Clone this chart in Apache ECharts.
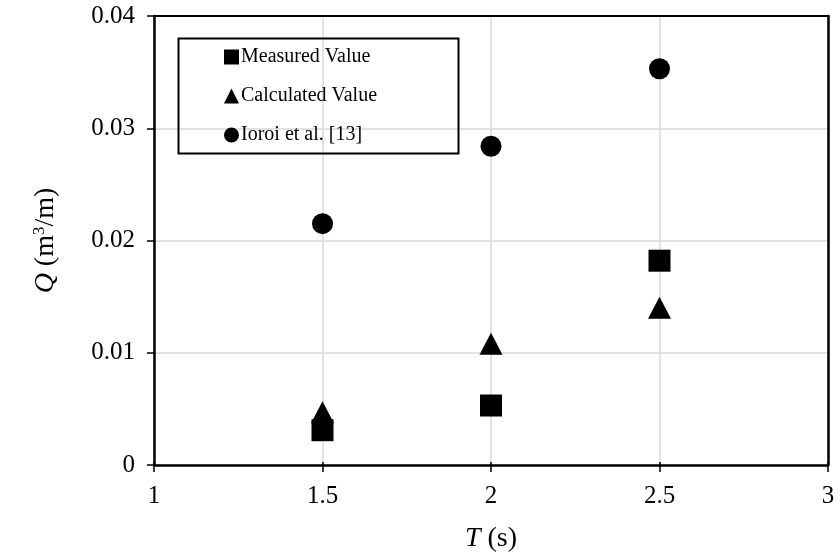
<!DOCTYPE html>
<html>
<head>
<meta charset="utf-8">
<script src="https://cdn.jsdelivr.net/npm/echarts@6/dist/echarts.min.js"></script>
<style>
  html, body { margin: 0; padding: 0; background: #fff; }
  #chart { width: 840px; height: 558px; }
</style>
</head>
<body>
<div id="chart"></div>
<script>
// Wave period T (s) and overtopping discharge Q (m³/m)
const periods = [1.5, 2, 2.5];
const measuredQ = [0.0031, 0.0053, 0.0182];
const calculatedQ = [0.0047, 0.0108, 0.0140];
const ioroiQ = [0.0215, 0.0284, 0.0353];
const xTicks = [1, 1.5, 2, 2.5, 3];
const yTicks = [0, 0.01, 0.02, 0.03, 0.04];

const FONT = '"Liberation Serif", "Times New Roman", serif';
const pairs = (ys) => periods.map((x, i) => [x, ys[i]]);

const chart = echarts.init(document.getElementById('chart'), null, { renderer: 'canvas' });

const gridLine = { show: true, lineStyle: { color: '#d9d9d9', width: 1.5 } };

chart.setOption({
  backgroundColor: '#fff',
  animation: false,
  grid: { left: 154, right: 12, top: 16, bottom: 93, show: false },
  xAxis: [{
    type: 'value',
    min: xTicks[0], max: xTicks[xTicks.length - 1], interval: 0.5,
    name: '{i|T} (s)',
    nameLocation: 'middle', nameGap: 60,
    nameTextStyle: {
      fontFamily: FONT, fontSize: 28, color: '#000',
      rich: { i: { fontFamily: FONT, fontSize: 28, fontStyle: 'italic', color: '#000' } }
    },
    axisLine: { show: true, onZero: false, lineStyle: { color: '#000', width: 2.5 } },
    axisTick: { show: true, length: 7, lineStyle: { color: '#000', width: 1.5 } },
    axisLabel: { fontFamily: FONT, fontSize: 25, color: '#000', margin: 19 },
    splitLine: gridLine
  }, {
    // inner half of the crossing x ticks
    type: 'value', position: 'bottom',
    min: xTicks[0], max: xTicks[xTicks.length - 1], interval: 0.5,
    axisLine: { show: false, onZero: false },
    axisTick: { show: true, inside: true, length: 3, lineStyle: { color: '#000', width: 1.5 } },
    axisLabel: { show: false }, splitLine: { show: false }
  }, {
    // top frame line
    type: 'value', position: 'top',
    min: xTicks[0], max: xTicks[xTicks.length - 1],
    axisLine: { show: true, onZero: false, lineStyle: { color: '#000', width: 2 } },
    axisTick: { show: false }, axisLabel: { show: false }, splitLine: { show: false }
  }],
  yAxis: [{
    type: 'value',
    min: yTicks[0], max: yTicks[yTicks.length - 1], interval: 0.01,
    name: '{i|Q} (m{sup|3}/m)',
    nameLocation: 'middle', nameGap: 94, nameRotate: 90,
    nameTextStyle: {
      fontFamily: FONT, fontSize: 28, color: '#000',
      rich: {
        i: { fontFamily: FONT, fontSize: 28, fontStyle: 'italic', color: '#000' },
        sup: { fontFamily: FONT, fontSize: 17, color: '#000', verticalAlign: 'top', padding: [0, 0, 12, 0] }
      }
    },
    axisLine: { show: true, onZero: false, lineStyle: { color: '#000', width: 2.5 } },
    axisTick: { show: true, length: 7, lineStyle: { color: '#000', width: 1.5 } },
    axisLabel: { fontFamily: FONT, fontSize: 25, color: '#000', margin: 19 },
    splitLine: gridLine
  }, {
    // right frame line
    type: 'value', position: 'right',
    min: yTicks[0], max: yTicks[yTicks.length - 1],
    axisLine: { show: true, onZero: false, lineStyle: { color: '#000', width: 2.5 } },
    axisTick: { show: false }, axisLabel: { show: false }, splitLine: { show: false }
  }],
  legend: {
    orient: 'vertical', left: 219, top: 42,
    itemWidth: 15, itemHeight: 15, itemGap: 19,
    textStyle: { fontFamily: FONT, fontSize: 20, color: '#000', padding: [0, 0, 0, -3] },
    data: [
      { name: 'Measured Value', icon: 'rect' },
      { name: 'Calculated Value', icon: 'triangle' },
      { name: 'Ioroi et al. [13]', icon: 'circle' }
    ]
  },
  graphic: [{
    type: 'rect', left: 176, top: 36, z: 100, silent: true,
    shape: { width: 280, height: 115 },
    style: { fill: null, stroke: '#000', lineWidth: 2 }
  }],
  series: [{
    name: 'Calculated Value', type: 'scatter', symbol: 'triangle', symbolSize: [23, 22],
    itemStyle: { color: '#000', opacity: 1 }, data: pairs(calculatedQ), z: 3
  }, {
    name: 'Measured Value', type: 'scatter', symbol: 'rect', symbolSize: 22,
    itemStyle: { color: '#000', opacity: 1 }, data: pairs(measuredQ), z: 4
  }, {
    name: 'Ioroi et al. [13]', type: 'scatter', symbol: 'circle', symbolSize: 21,
    itemStyle: { color: '#000', opacity: 1 }, data: pairs(ioroiQ), z: 3
  }]
});
</script>
</body>
</html>
